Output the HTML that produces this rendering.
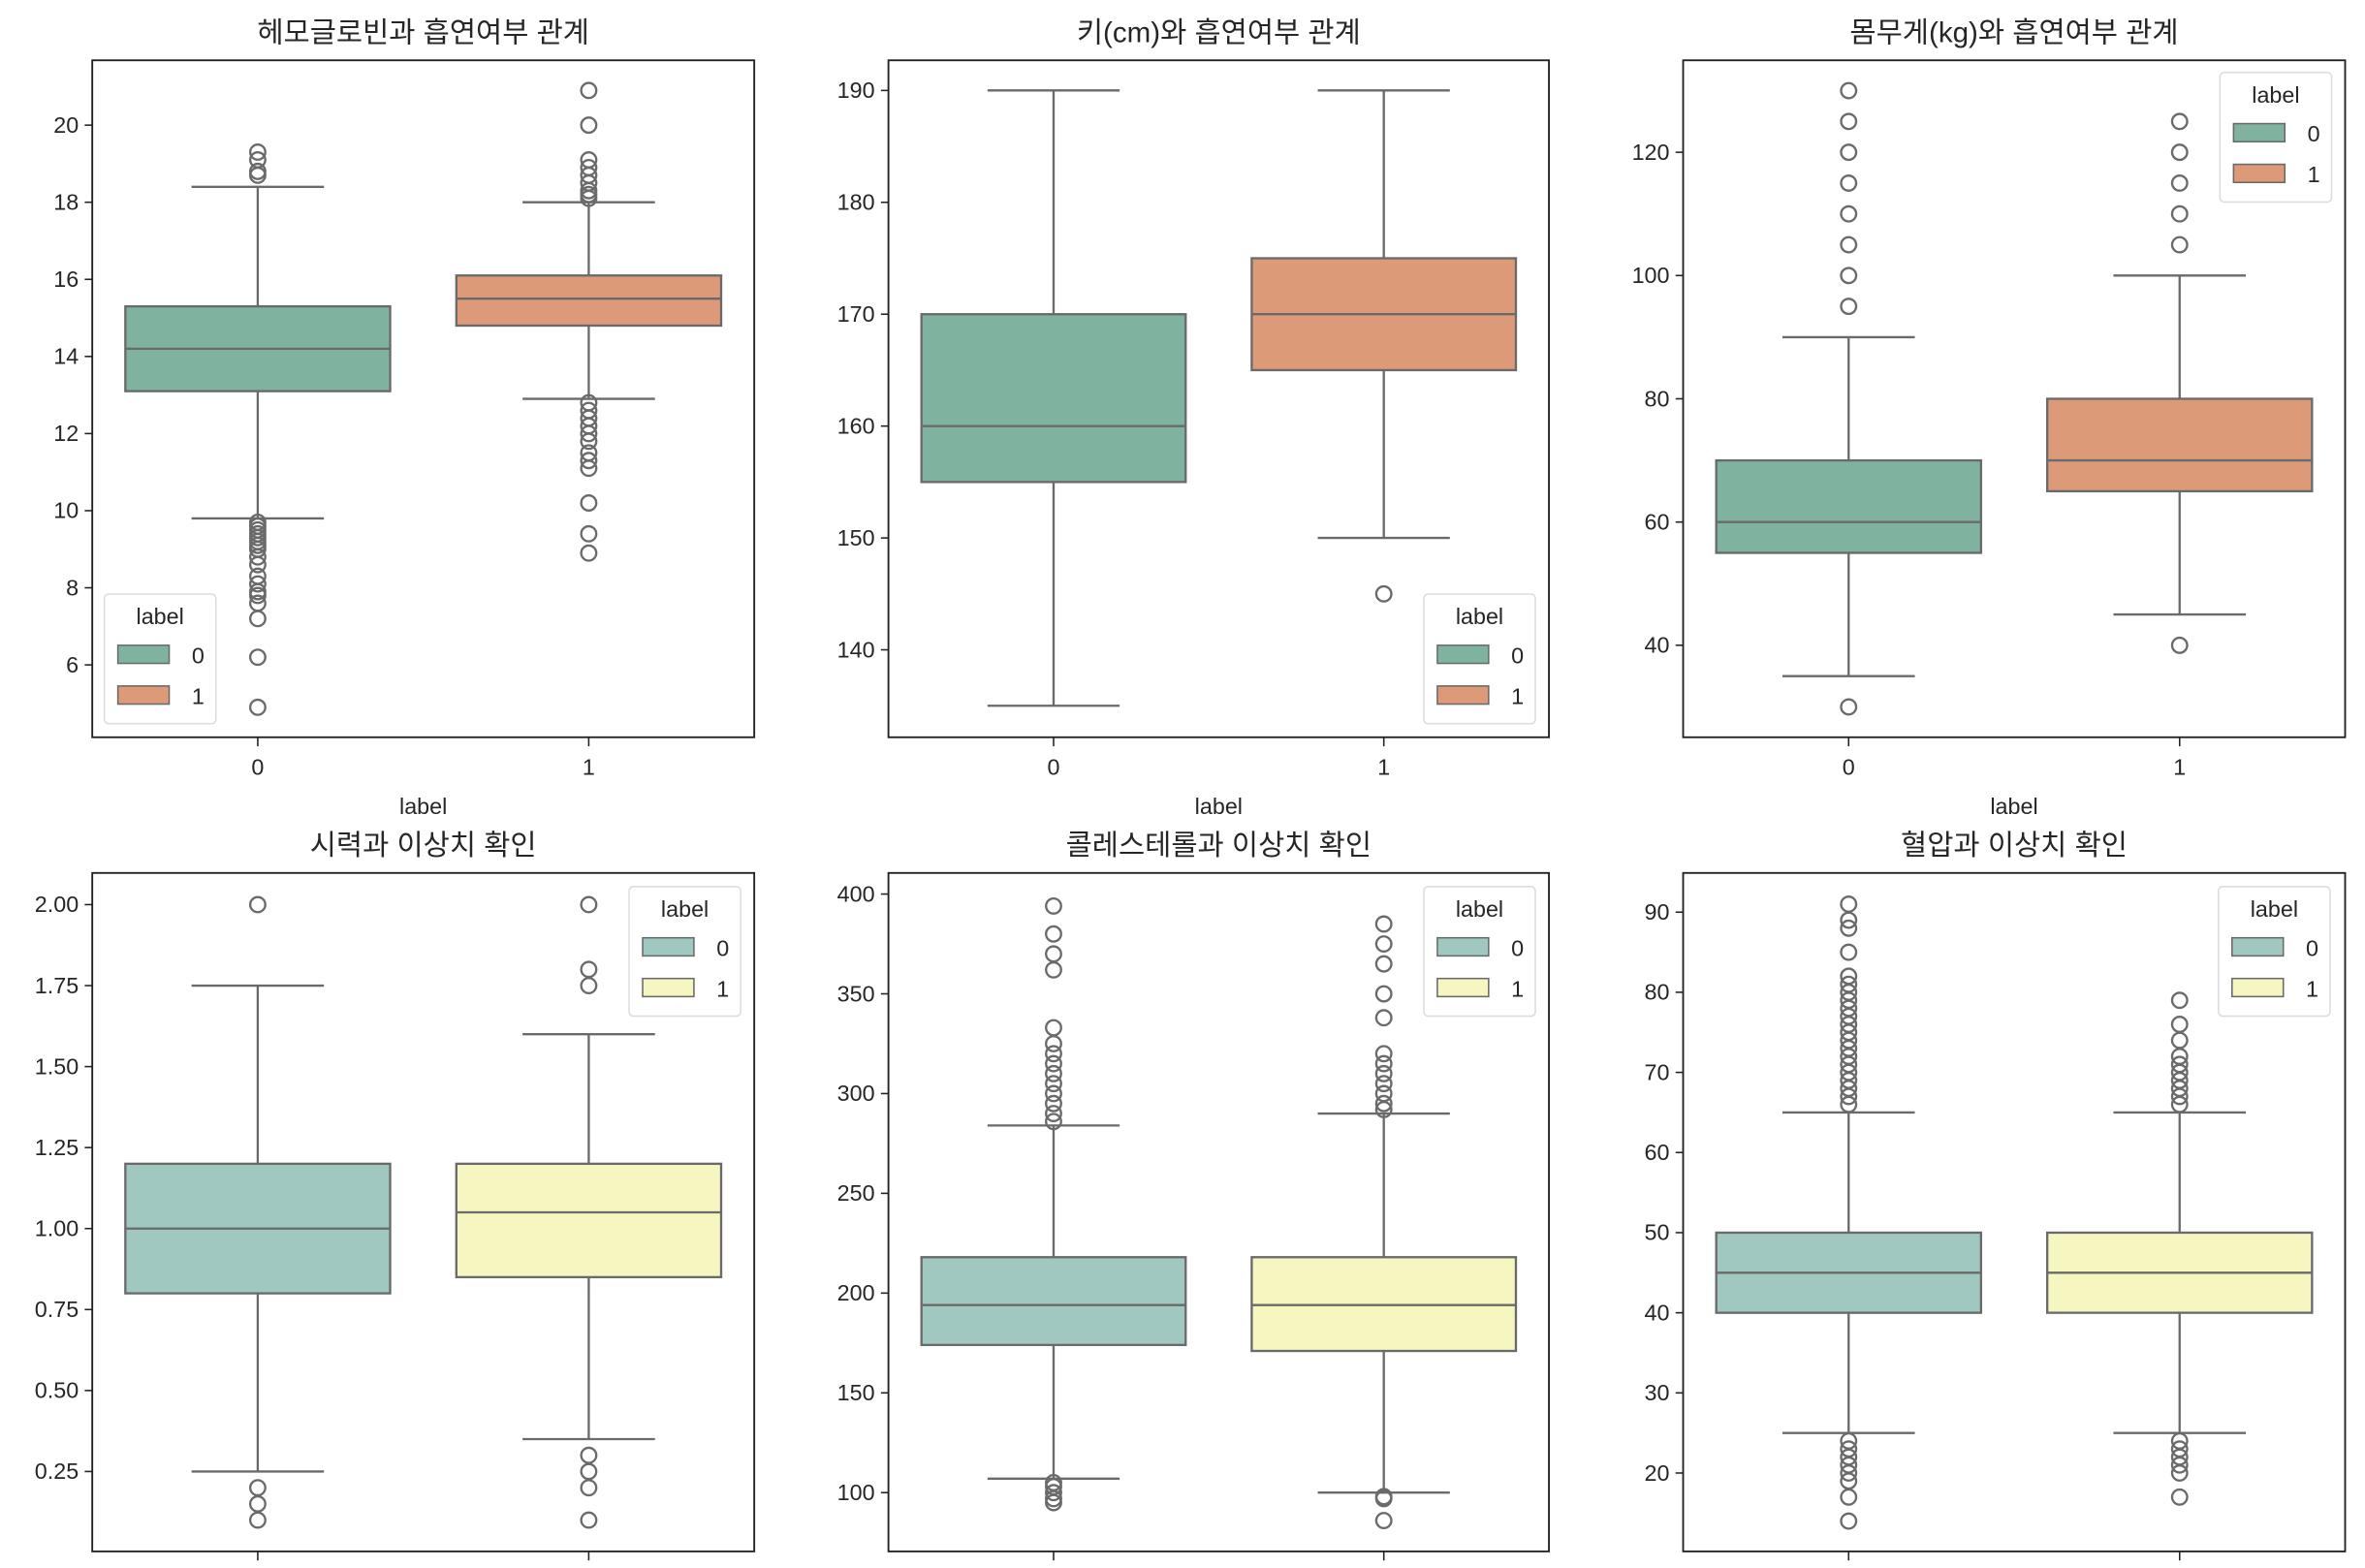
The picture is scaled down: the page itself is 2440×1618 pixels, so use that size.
<!DOCTYPE html>
<html><head><meta charset="utf-8">
<style>
html,body{margin:0;padding:0;background:#fff;}
svg{display:block;}
text{font-family:"Liberation Sans","Noto Sans CJK KR",sans-serif;fill:#262626;}
</style></head>
<body>
<svg id="fig" width="2440" height="1618" viewBox="0 0 1568 1040" xmlns="http://www.w3.org/2000/svg"></svg>
<script>
const categories = ["0","1"];
const titles = ["헤모글로빈과 흡연여부 관계","키(cm)와 흡연여부 관계","몸무게(kg)와 흡연여부 관계","시력과 이상치 확인","콜레스테롤과 이상치 확인","혈압과 이상치 확인"];
// [whiskerLow, q1, median, q3, whiskerHigh] per group
const hemoStats = [[9.8,13.1,14.2,15.3,18.4],[12.9,14.8,15.5,16.1,18.0]];
const hemoOut = [[18.7,18.8,19.1,19.3,9.7,9.6,9.5,9.4,9.3,9.2,9.1,9.0,8.8,8.6,8.3,8.1,7.9,7.8,7.6,7.2,6.2,4.9],[18.1,18.2,18.3,18.5,18.7,18.9,19.1,20.0,20.9,12.8,12.6,12.4,12.2,12.0,11.8,11.5,11.3,11.1,10.2,9.4,8.9]];
const heightStats = [[135,155,160,170,190],[150,165,170,175,190]];
const heightOut = [[],[145]];
const weightStats = [[35,55,60,70,90],[45,65,70,80,100]];
const weightOut = [[95,100,105,110,115,120,125,130,30],[105,110,115,120,125,40]];
const eyeStats = [[0.25,0.8,1.0,1.2,1.75],[0.35,0.85,1.05,1.2,1.6]];
const eyeOut = [[2.0,0.2,0.15,0.1],[1.75,1.8,2.0,0.3,0.25,0.2,0.1]];
const cholStats = [[107,174,194,218,284],[100,171,194,218,290]];
const cholOut = [[286,290,295,300,305,310,315,320,325,333,362,370,380,394,105,103,100,97,95],[292,295,300,305,310,315,320,338,350,365,375,385,98,97,86]];
const bpStats = [[25,40,45,50,65],[25,40,45,50,65]];
const bpOut = [[66,67,68,69,70,71,72,73,74,75,76,77,78,79,80,81,82,85,88,89,91,24,23,22,21,20,19,17,14],[66,67,68,69,70,71,72,74,76,79,24,23,22,21,20,17]];
const ticks1 = [6,8,10,12,14,16,18,20];
const ticks2 = [140,150,160,170,180,190];
const ticks3 = [40,60,80,100,120];
const ticks4 = [0.25,0.5,0.75,1.0,1.25,1.5,1.75,2.0];
const ticks5 = [100,150,200,250,300,350,400];
const ticks6 = [20,30,40,50,60,70,80,90];

const NS="http://www.w3.org/2000/svg";
const svg=document.getElementById('fig');
function mk(tag,attrs,parent){const e=document.createElementNS(NS,tag);for(const k in attrs)e.setAttribute(k,attrs[k]);(parent||svg).appendChild(e);return e;}
const set2=["#7fb3a0","#dd9a78"], set3=["#a0c8c0","#f5f6c0"];
const LC="#6a6a6a";
const panels=[
 {stats:hemoStats,out:hemoOut,ticks:ticks1,fmt:v=>String(v),x0:61,x1:500,y0:40,y1:489,v0:20,p0:83,v1:6,p1:441,pal:set2,leg:[69,394],xl:true},
 {stats:heightStats,out:heightOut,ticks:ticks2,fmt:v=>String(v),x0:589,x1:1027,y0:40,y1:489,v0:190,p0:60,v1:140,p1:431,pal:set2,leg:[944,394],xl:true},
 {stats:weightStats,out:weightOut,ticks:ticks3,fmt:v=>String(v),x0:1116,x1:1555,y0:40,y1:489,v0:120,p0:101,v1:40,p1:428,pal:set2,leg:[1472,48],xl:true},
 {stats:eyeStats,out:eyeOut,ticks:ticks4,fmt:v=>v.toFixed(2),x0:61,x1:500,y0:579,y1:1029,v0:2.0,p0:600,v1:0.25,p1:976,pal:set3,leg:[417,588],xl:false},
 {stats:cholStats,out:cholOut,ticks:ticks5,fmt:v=>String(v),x0:589,x1:1027,y0:579,y1:1029,v0:400,p0:593,v1:100,p1:990,pal:set3,leg:[944,588],xl:false},
 {stats:bpStats,out:bpOut,ticks:ticks6,fmt:v=>String(v),x0:1116,x1:1555,y0:579,y1:1029,v0:90,p0:605,v1:20,p1:977,pal:set3,leg:[1471,588],xl:false}
];
panels.forEach((p,i)=>{
  const g=mk('g',{});
  
  
  const y=v=>p.p0+(v-p.v0)*(p.p1-p.p0)/(p.v1-p.v0);
  const w=p.x1-p.x0;
  const x=c=>p.x0+w*(0.25+0.5*c);
  const u=w/2;
  const t=mk('text',{x:(p.x0+p.x1)/2,y:p.y0-12,'text-anchor':'middle','font-size':19},g);
  t.textContent=titles[i];
  
  
  p.ticks.forEach(v=>{
    mk('line',{x1:p.x0-5,x2:p.x0,y1:y(v),y2:y(v),stroke:'#222','stroke-width':1},g);
    const tt=mk('text',{x:p.x0-9,y:y(v)+5,'text-anchor':'end','font-size':15},g);
    tt.textContent=p.fmt(v);
    
    
  });
  categories.forEach((c,ci)=>{
    const cx=x(ci);
    mk('line',{x1:cx,x2:cx,y1:p.y1,y2:p.y1+6,stroke:'#222','stroke-width':1},g);
    if(p.xl){
      const xt=mk('text',{x:cx,y:p.y1+25,'text-anchor':'middle','font-size':15},g);
      xt.textContent=c;
      
      
    }
    const s=p.stats[ci];
    const hw=0.4*u, cw=0.2*u;
    const bg=mk('g',{},g);
    
    
    mk('line',{x1:cx,x2:cx,y1:y(s[0]),y2:y(s[1]),stroke:LC,'stroke-width':1.5},bg);
    mk('line',{x1:cx,x2:cx,y1:y(s[3]),y2:y(s[4]),stroke:LC,'stroke-width':1.5},bg);
    mk('line',{x1:cx-cw,x2:cx+cw,y1:y(s[0]),y2:y(s[0]),stroke:LC,'stroke-width':1.5},bg);
    mk('line',{x1:cx-cw,x2:cx+cw,y1:y(s[4]),y2:y(s[4]),stroke:LC,'stroke-width':1.5},bg);
    mk('rect',{x:cx-hw,y:y(s[3]),width:2*hw,height:y(s[1])-y(s[3]),fill:p.pal[ci],stroke:LC,'stroke-width':1.5},bg);
    mk('line',{x1:cx-hw,x2:cx+hw,y1:y(s[2]),y2:y(s[2]),stroke:LC,'stroke-width':1.5},bg);
    p.out[ci].forEach(v=>{
      mk('circle',{cx:cx,cy:y(v),r:5,fill:'none',stroke:LC,'stroke-width':1.5},bg);
    });
  });
  mk('rect',{x:p.x0,y:p.y0,width:w,height:p.y1-p.y0,fill:'none',stroke:'#222','stroke-width':1.2},g);
  if(p.xl){
    const xl=mk('text',{x:(p.x0+p.x1)/2,y:p.y1+51,'text-anchor':'middle','font-size':15},g);
    xl.textContent='label';
    
    
  }
  const lg=mk('g',{},g);
  
  
  const [lx,ly]=p.leg;
  mk('rect',{x:lx,y:ly,width:74,height:86,rx:3,fill:'#fff','fill-opacity':0.85,stroke:'#ddd','stroke-width':1},lg);
  const lt=mk('text',{x:lx+37,y:ly+20,'text-anchor':'middle','font-size':15},lg);
  lt.textContent='label';
  categories.forEach((c,ci)=>{
    const ey=ly+34+ci*27;
    const er=mk('rect',{x:lx+9,y:ey,width:34,height:12,fill:p.pal[ci],stroke:LC,'stroke-width':1},lg);
    
    
    const et=mk('text',{x:lx+58,y:ey+12,'font-size':15},lg);
    et.textContent=c;
  });
});
</script>
</body></html>
